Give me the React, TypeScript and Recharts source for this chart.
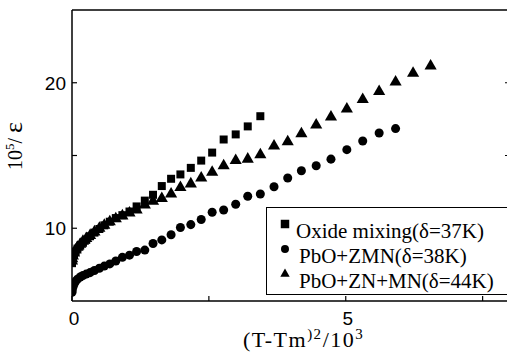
import React from "react";
import { Legend, Scatter, ScatterChart, Symbols, XAxis, YAxis } from "recharts";

// (T-Tm)^2/10^3 at which each sample was read (same temperature steps for all runs)
const X_VALUES = [
  0, 0.004, 0.016, 0.037, 0.066, 0.1, 0.15, 0.2, 0.26, 0.33, 0.41, 0.5, 0.59,
  0.69, 0.8, 0.92, 1.05, 1.18, 1.33, 1.48, 1.64, 1.81, 1.98, 2.17, 2.36, 2.56,
  2.77, 2.99, 3.21, 3.44, 3.69, 3.94, 4.19, 4.46, 4.73, 5.02, 5.31, 5.61, 5.91,
  6.23, 6.55,
];

// 10^5 / epsilon
const OXIDE_Y = [
  7.6, 7.8, 8.0, 8.2, 8.4, 8.6, 8.8, 9.0, 9.2, 9.45, 9.7, 9.95, 10.2, 10.45,
  10.7, 10.9, 11.15, 11.5, 11.9, 12.3, 12.9, 13.4, 13.7, 14.15, 14.65, 15.2,
  16.1, 16.45, 17.0, 17.7,
];
const ZMN_Y = [
  5.6, 5.75, 5.95, 6.15, 6.35, 6.5, 6.65, 6.75, 6.85, 6.95, 7.1, 7.25, 7.4,
  7.55, 7.75, 8.0, 8.15, 8.4, 8.5, 8.95, 9.2, 9.55, 10.05, 10.25, 10.6, 11.1,
  11.25, 11.65, 12.2, 12.35, 12.85, 13.45, 13.95, 14.3, 14.75, 15.4, 16.0,
  16.55, 16.85,
];
const ZNMN_Y = [
  7.75, 7.9, 8.1, 8.3, 8.5, 8.7, 8.9, 9.1, 9.3, 9.5, 9.75, 10.0, 10.2, 10.45,
  10.65, 10.85, 11.05, 11.25, 11.6, 11.85, 12.05, 12.35, 12.8, 13.05, 13.45,
  13.85, 14.3, 14.65, 14.75, 15.05, 15.65, 15.95, 16.5, 17.1, 17.65, 18.2,
  18.85, 19.4, 20.05, 20.65, 21.15,
];

const SERIES_NAMES = [
  "Oxide mixing(δ=37K)",
  "PbO+ZMN(δ=38K)",
  "PbO+ZN+MN(δ=44K)",
];

const X_TICKS = [0, 2.5, 5, 7.5];
const X_LABELED = [0, 5];
const Y_TICKS = [10, 15, 20];
const Y_LABELED = [10, 20];

const toRows = (ys: number[]) => ys.map((y, i) => ({ x: X_VALUES[i], y }));

const SANS = "'Liberation Sans', Arial, sans-serif";
const SERIF = "'Liberation Serif', 'Times New Roman', serif";
const TICK_LEN = 5;

function LeftTick({ x, y, payload }: any) {
  const v = payload.value;
  return (
    <g>
      <line x1={x} x2={x + TICK_LEN} y1={y} y2={y} stroke="#000" strokeWidth={1.2} />
      {Y_LABELED.includes(v) && (
        <text x={x - 6} y={y} dy="0.36em" textAnchor="end" fontFamily={SANS} fontSize={19} fill="#000">
          {v}
        </text>
      )}
    </g>
  );
}

function RightTick({ x, y }: any) {
  return <line x1={x} x2={x - TICK_LEN} y1={y} y2={y} stroke="#000" strokeWidth={1.2} />;
}

function BottomTick({ x, y, payload }: any) {
  const v = payload.value;
  return (
    <g>
      <line x1={x} x2={x} y1={y} y2={y - TICK_LEN} stroke="#000" strokeWidth={1.2} />
      {X_LABELED.includes(v) && (
        <text x={x + 2} y={y + 24} textAnchor="middle" fontFamily={SANS} fontSize={19} fill="#000">
          {v}
        </text>
      )}
    </g>
  );
}

function TopTick({ x, y }: any) {
  return <line x1={x} x2={x} y1={y} y2={y + TICK_LEN} stroke="#000" strokeWidth={1.2} />;
}

function YTitle() {
  return (
    <text transform="translate(21.5,146) rotate(-90)" textAnchor="middle" fontFamily={SERIF} fontSize={20} fill="#000">
      <tspan>10</tspan>
      <tspan dy={-8} fontSize={13}>5</tspan>
      <tspan dy={8}>/</tspan>
      <tspan dx={5} fontSize={26}>ε</tspan>
    </text>
  );
}

function XTitle() {
  return (
    <text x={243} y={347} fontFamily={SERIF} fontSize={22} letterSpacing={1.5} fill="#000">
      <tspan>(T-Tm</tspan>
      <tspan dy={-8} fontSize={15}>)2</tspan>
      <tspan dy={8}>/10</tspan>
      <tspan dy={-8} fontSize={15}>3</tspan>
    </text>
  );
}

const LEGEND_ICONS: { type: "square" | "circle" | "triangle"; size: number }[] = [
  { type: "square", size: 72 },
  { type: "circle", size: 50 },
  { type: "triangle", size: 38 },
];

function LegendBox() {
  return (
    <div
      style={{
        border: "1.5px solid #000",
        background: "#fff",
        padding: "11px 0 0 12px",
        fontFamily: SERIF,
        fontSize: 21,
        lineHeight: "25px",
        color: "#000",
        whiteSpace: "nowrap",
      }}
    >
      {SERIES_NAMES.map((name, i) => (
        <div key={name} style={{ display: "flex", alignItems: "flex-start" }}>
          <svg width={12} height={12} style={{ marginTop: -1, marginRight: i === 0 ? 5 : 8 }}>
            <Symbols cx={6} cy={6} type={LEGEND_ICONS[i].type} size={LEGEND_ICONS[i].size} fill="#000" />
          </svg>
          <span>{name}</span>
        </div>
      ))}
    </div>
  );
}

export default function App() {
  return (
    <div
      style={{
        position: "absolute",
        left: 0,
        top: 0,
        width: 507,
        height: 354,
        overflow: "hidden",
        background: "#fff",
      }}
    >
      <ScatterChart width={515} height={354} margin={{ top: 9, right: 4, bottom: 0, left: 0 }}>
        <XAxis
          dataKey="x"
          type="number"
          domain={[0, 8]}
          ticks={X_TICKS}
          interval={0}
          tickSize={0}
          tickMargin={0}
          tickLine={false}
          tick={<BottomTick />}
          height={53}
          axisLine={{ stroke: "#000", strokeWidth: 1.5 }}
          allowDataOverflow
          label={<XTitle />}
        />
        <XAxis
          xAxisId="top"
          orientation="top"
          type="number"
          domain={[0, 8]}
          ticks={X_TICKS}
          interval={0}
          tickSize={0}
          tickMargin={0}
          tickLine={false}
          tick={<TopTick />}
          height={1}
          axisLine={{ stroke: "#000", strokeWidth: 1.5 }}
          allowDataOverflow
        />
        <YAxis
          dataKey="y"
          type="number"
          domain={[5, 25]}
          ticks={Y_TICKS}
          interval={0}
          tickSize={0}
          tickMargin={0}
          tickLine={false}
          tick={<LeftTick />}
          width={72}
          axisLine={{ stroke: "#000", strokeWidth: 1.5 }}
          allowDataOverflow
          label={<YTitle />}
        />
        <YAxis
          yAxisId="right"
          orientation="right"
          type="number"
          domain={[5, 25]}
          ticks={Y_TICKS}
          interval={0}
          tickSize={0}
          tickMargin={0}
          tickLine={false}
          tick={<RightTick />}
          width={1}
          axisLine={{ stroke: "#000", strokeWidth: 1.5 }}
          allowDataOverflow
        />
        <Scatter name={SERIES_NAMES[1]} data={toRows(ZMN_Y)} shape="circle" fill="#000" size={36} isAnimationActive={false} />
        <Scatter name={SERIES_NAMES[2]} data={toRows(ZNMN_Y)} shape="triangle" fill="#000" size={28} isAnimationActive={false} />
        <Scatter name={SERIES_NAMES[0]} data={toRows(OXIDE_Y)} shape="square" fill="#000" size={38} isAnimationActive={false} />
        <Legend
          layout="vertical"
          align="center"
          verticalAlign="middle"
          content={() => <LegendBox />}
          wrapperStyle={{ left: 266, top: 207, width: 245 }}
        />
      </ScatterChart>
    </div>
  );
}
